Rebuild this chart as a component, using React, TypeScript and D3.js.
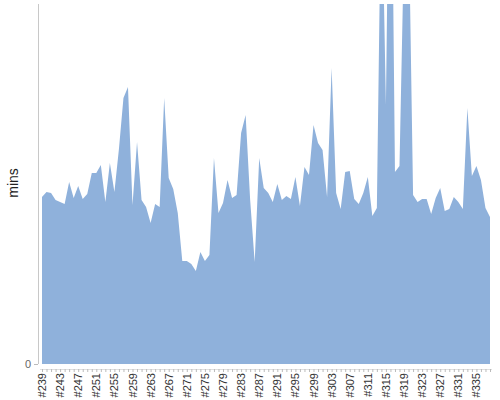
import React from "react";
import * as d3 from "d3";

const categories: string[] = Array.from({ length: 100 }, (_, i) => "#" + (239 + i));

const mins: number[] = [
  167, 172, 171, 164, 162, 160, 182, 166, 178, 165,
  170, 191, 191, 199, 162, 201, 172, 215, 266, 277,
  159, 222, 164, 157, 141, 160, 157, 266, 186, 175,
  151, 103, 103, 100, 93, 112, 103, 109, 206, 151,
  161, 184, 166, 169, 231, 249, 164, 102, 206, 176,
  171, 162, 180, 164, 168, 165, 187, 158, 197, 189,
  239, 221, 214, 167, 296, 171, 155, 192, 193, 165,
  160, 171, 187, 148, 156, 499, 259, 644, 192, 198,
  420, 460, 169, 162, 165, 165, 150, 166, 176, 153,
  155, 167, 162, 155, 256, 188, 198, 184, 156, 147,
];

const yTicks: number[] = [0];
const yDomain: [number, number] = [0, 360];

export default function App() {
  const W = 500, H = 400;
  const x = d3.scalePoint<string>().domain(categories).range([42, 490]);
  const y = d3.scaleLinear().domain(yDomain).range([364, 4]);
  const area = d3
    .area<number>()
    .x((_, i) => x(categories[i]) as number)
    .y0(y(0))
    .y1((d) => y(d));
  const font = "'Liberation Sans', Arial, sans-serif";
  return (
    <svg width={W} height={H} style={{ position: "absolute", left: 0, top: 0 }} fontFamily={font}>
      <defs>
        <clipPath id="plot">
          <rect x={38} y={4} width={460} height={360} />
        </clipPath>
      </defs>
      <path d={area(mins) || ""} fill="#8fb1db" clipPath="url(#plot)" />
      {/* y axis */}
      <line x1={38.5} x2={38.5} y1={4} y2={364} stroke="#c8c8c8" />
      {yTicks.map((t) => (
        <g key={t}>
          <line x1={34} x2={38} y1={y(t) + 0.5} y2={y(t) + 0.5} stroke="#bbb" />
          <text x={31} y={y(t)} textAnchor="end" dominantBaseline="central" fontSize={11} fill="#666">
            {t}
          </text>
        </g>
      ))}
      <text transform={`translate(18,183) rotate(-90)`} textAnchor="middle" fontSize={14} fill="#222">
        mins
      </text>
      {/* x axis */}
      <line x1={40} x2={492} y1={369.5} y2={369.5} stroke="#e0e0e0" />
      {categories.map((c) => (
        <line key={c} x1={(x(c) as number) + 0.5} x2={(x(c) as number) + 0.5} y1={369} y2={372} stroke="#bbb" />
      ))}
      {categories.map((c, i) =>
        i % 4 === 0 ? (
          <text
            key={"l" + c}
            transform={`translate(${x(c) as number},373) rotate(-90)`}
            textAnchor="end"
            dominantBaseline="central"
            fontSize={11}
            fill="#333"
          >
            {c}
          </text>
        ) : null
      )}
    </svg>
  );
}
